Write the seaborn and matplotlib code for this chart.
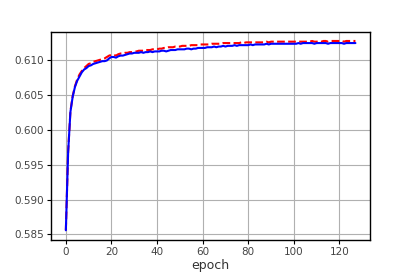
import numpy as np
import pandas as pd
import seaborn as sns
import matplotlib
matplotlib.use('Agg')
import matplotlib.pyplot as plt

# accuracy per epoch
blue_vals = [
    0.5856, 0.5968, 0.6026, 0.6048, 0.6062, 0.6071, 0.6077, 0.6083, 0.6087, 0.6089,
    0.6092, 0.6093, 0.6095, 0.6096, 0.6097, 0.6098, 0.6099, 0.6099, 0.6100, 0.6103,
    0.6105, 0.6105, 0.6104, 0.6106, 0.6107, 0.6107, 0.6108, 0.6109, 0.6110, 0.6110,
    0.6111, 0.6111, 0.6111, 0.6112, 0.6111, 0.6112, 0.6112, 0.6113, 0.6112, 0.6113,
    0.6113, 0.6113, 0.6114, 0.6114, 0.6113, 0.6114, 0.6115, 0.6115, 0.6115, 0.6116,
    0.6116, 0.6116, 0.6116, 0.6117, 0.6117, 0.6116, 0.6117, 0.6117, 0.6118, 0.6118,
    0.6118, 0.6118, 0.6119, 0.6119, 0.6119, 0.6120, 0.6119, 0.6120, 0.6120, 0.6121,
    0.6120, 0.6121, 0.6121, 0.6121, 0.6122, 0.6121, 0.6122, 0.6122, 0.6122, 0.6122,
    0.6122, 0.6123, 0.6122, 0.6123, 0.6123, 0.6123, 0.6123, 0.6123, 0.6124, 0.6123,
    0.6124, 0.6124, 0.6124, 0.6124, 0.6124, 0.6124, 0.6124, 0.6124, 0.6124, 0.6124,
    0.6124, 0.6124, 0.6125, 0.6124, 0.6125, 0.6125, 0.6125, 0.6125, 0.6125, 0.6124,
    0.6125, 0.6125, 0.6125, 0.6125, 0.6125, 0.6124, 0.6125, 0.6125, 0.6125, 0.6125,
    0.6125, 0.6125, 0.6124, 0.6125, 0.6125, 0.6125, 0.6125, 0.6125,
]
red_vals = [
    0.5856, 0.5969, 0.6027, 0.6049, 0.6063, 0.6073, 0.6080, 0.6085, 0.6089, 0.6092,
    0.6095, 0.6096, 0.6098, 0.6099, 0.6100, 0.6101, 0.6102, 0.6103, 0.6105, 0.6107,
    0.6108, 0.6108, 0.6107, 0.6109, 0.6110, 0.6110, 0.6111, 0.6111, 0.6112, 0.6112,
    0.6113, 0.6113, 0.6114, 0.6114, 0.6114, 0.6115, 0.6115, 0.6115, 0.6116, 0.6116,
    0.6116, 0.6117, 0.6117, 0.6118, 0.6118, 0.6119, 0.6119, 0.6119, 0.6120, 0.6120,
    0.6120, 0.6121, 0.6121, 0.6121, 0.6121, 0.6122, 0.6122, 0.6122, 0.6122, 0.6123,
    0.6123, 0.6123, 0.6123, 0.6123, 0.6124, 0.6124, 0.6124, 0.6124, 0.6124, 0.6125,
    0.6125, 0.6125, 0.6125, 0.6125, 0.6125, 0.6125, 0.6125, 0.6126, 0.6125, 0.6126,
    0.6126, 0.6126, 0.6126, 0.6126, 0.6126, 0.6126, 0.6126, 0.6126, 0.6127, 0.6126,
    0.6127, 0.6127, 0.6127, 0.6127, 0.6127, 0.6127, 0.6127, 0.6127, 0.6127, 0.6127,
    0.6127, 0.6127, 0.6127, 0.6127, 0.6127, 0.6127, 0.6127, 0.6127, 0.6128, 0.6127,
    0.6127, 0.6128, 0.6127, 0.6128, 0.6128, 0.6127, 0.6128, 0.6128, 0.6128, 0.6128,
    0.6128, 0.6128, 0.6127, 0.6128, 0.6128, 0.6128, 0.6128, 0.6128,
]
epochs = list(range(len(blue_vals)))

sns.set_style('white')
plt.rcParams['font.family'] = ['DejaVu Sans']

df = pd.DataFrame({'epoch': epochs, 'blue': blue_vals, 'red': red_vals})

fig, ax = plt.subplots(figsize=(4.11, 2.74), dpi=100)
fig.subplots_adjust(left=0.125, right=0.9, top=0.885, bottom=0.125)
sns.lineplot(data=df, x='epoch', y='red', ax=ax, color='red', linestyle='--', linewidth=1.5)
sns.lineplot(data=df, x='epoch', y='blue', ax=ax, color='blue', linewidth=1.5)

ax.grid(True, color='#b0b0b0', linewidth=0.8)
for s in ax.spines.values():
    s.set_color('black')
    s.set_linewidth(1.0)
ax.tick_params(axis='both', direction='out', length=3, width=0.8, color='black',
               labelsize=7.5, labelcolor='#444444', bottom=True, left=True, pad=2.5)
ax.set_xticks([0, 20, 40, 60, 80, 100, 120])
ax.set_yticks([0.585, 0.590, 0.595, 0.600, 0.605, 0.610])
ax.set_xlabel('epoch', fontsize=9, color='#333333', labelpad=1)
ax.set_ylabel('')

plt.savefig('out.png', dpi=100)
